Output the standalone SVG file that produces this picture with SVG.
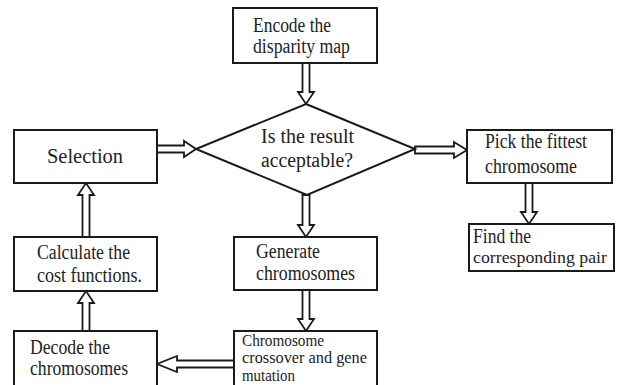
<svg xmlns="http://www.w3.org/2000/svg" width="618" height="385" viewBox="0 0 618 385">
<style>
.box{fill:#fff;stroke:#1a1a1a;stroke-width:2}
.arr{fill:#fff;stroke:#1a1a1a;stroke-width:1.8;stroke-linejoin:miter}
text{font-family:"Liberation Serif","Times New Roman",serif;fill:#222}
.t20{font-size:20px}
.t21{font-size:21px}
.t17{font-size:17.5px}
.t16{font-size:16px}
</style>
<rect width="618" height="385" fill="#fff"/>
<g id="connectors">
<polygon class="arr" points="302.5,63 302.5,92 298,92 306,104 314,92 309.5,92 309.5,63"/>
<polygon class="arr" points="302.5,195 302.5,225 298,225 306,237 314,225 309.5,225 309.5,195"/>
<polygon class="arr" points="302.5,290 302.5,319 298,319 306,331 314,319 309.5,319 309.5,290"/>
<polygon class="arr" points="525.5,183 525.5,212 521,212 529,224 537,212 532.5,212 532.5,183"/>
<polygon class="arr" points="82.5,237 82.5,195 78,195 86,183 94,195 89.5,195 89.5,237"/>
<polygon class="arr" points="82.5,331 82.5,303 78,303 86,291 94,303 89.5,303 89.5,331"/>
<polygon class="arr" points="157,145.5 184,145.5 184,141 196,149 184,157 184,152.5 157,152.5"/>
<polygon class="arr" points="415,146.5 454,146.5 454,142 467,150 454,158 454,153.5 415,153.5"/>
<polygon class="arr" points="234,360.5 177,360.5 177,356 157,364 177,372 177,367.5 234,367.5"/>
</g>
<g id="encode">
<rect class="box" x="233" y="8" width="144" height="55"/>
<text class="t20" x="253" y="32" textLength="78" lengthAdjust="spacingAndGlyphs">Encode the</text>
<text class="t20" x="253" y="53" textLength="97" lengthAdjust="spacingAndGlyphs">disparity map</text>
</g>
<g id="decision">
<polygon class="box" points="306,104 415,149 307,195 196,149"/>
<text class="t20" x="261" y="143" textLength="93" lengthAdjust="spacingAndGlyphs">Is the result</text>
<text class="t20" x="261" y="167" textLength="92" lengthAdjust="spacingAndGlyphs">acceptable?</text>
</g>
<g id="selection">
<rect class="box" x="14" y="130" width="143" height="53"/>
<text class="t21" x="47" y="163" textLength="76" lengthAdjust="spacingAndGlyphs">Selection</text>
</g>
<g id="pick">
<rect class="box" x="467" y="130" width="145" height="53"/>
<text class="t20" x="485" y="148" textLength="102" lengthAdjust="spacingAndGlyphs">Pick the fittest</text>
<text class="t20" x="485" y="173" textLength="92" lengthAdjust="spacingAndGlyphs">chromosome</text>
</g>
<g id="find">
<rect class="box" x="469" y="224" width="145" height="47"/>
<text class="t20" x="473" y="243" textLength="58" lengthAdjust="spacingAndGlyphs">Find the</text>
<text class="t17" x="473" y="263" textLength="134" lengthAdjust="spacingAndGlyphs">corresponding pair</text>
</g>
<g id="calculate">
<rect class="box" x="14" y="237" width="143" height="54"/>
<text class="t20" x="37" y="259" textLength="93" lengthAdjust="spacingAndGlyphs">Calculate the</text>
<text class="t20" x="37" y="282" textLength="105" lengthAdjust="spacingAndGlyphs">cost functions.</text>
</g>
<g id="generate">
<rect class="box" x="234" y="237" width="143" height="53"/>
<text class="t20" x="256" y="258" textLength="64" lengthAdjust="spacingAndGlyphs">Generate</text>
<text class="t20" x="256" y="280" textLength="99" lengthAdjust="spacingAndGlyphs">chromosomes</text>
</g>
<g id="decode">
<rect class="box" x="14" y="331" width="143" height="64"/>
<text class="t20" x="30" y="354" textLength="80" lengthAdjust="spacingAndGlyphs">Decode the</text>
<text class="t20" x="30" y="375" textLength="98" lengthAdjust="spacingAndGlyphs">chromosomes</text>
</g>
<g id="crossover">
<rect class="box" x="234" y="331" width="143" height="64"/>
<text class="t16" x="242" y="346" textLength="82" lengthAdjust="spacingAndGlyphs">Chromosome</text>
<text class="t16" x="242" y="363" textLength="125" lengthAdjust="spacingAndGlyphs">crossover and gene</text>
<text class="t16" x="242" y="381" textLength="53" lengthAdjust="spacingAndGlyphs">mutation</text>
</g>
</svg>
